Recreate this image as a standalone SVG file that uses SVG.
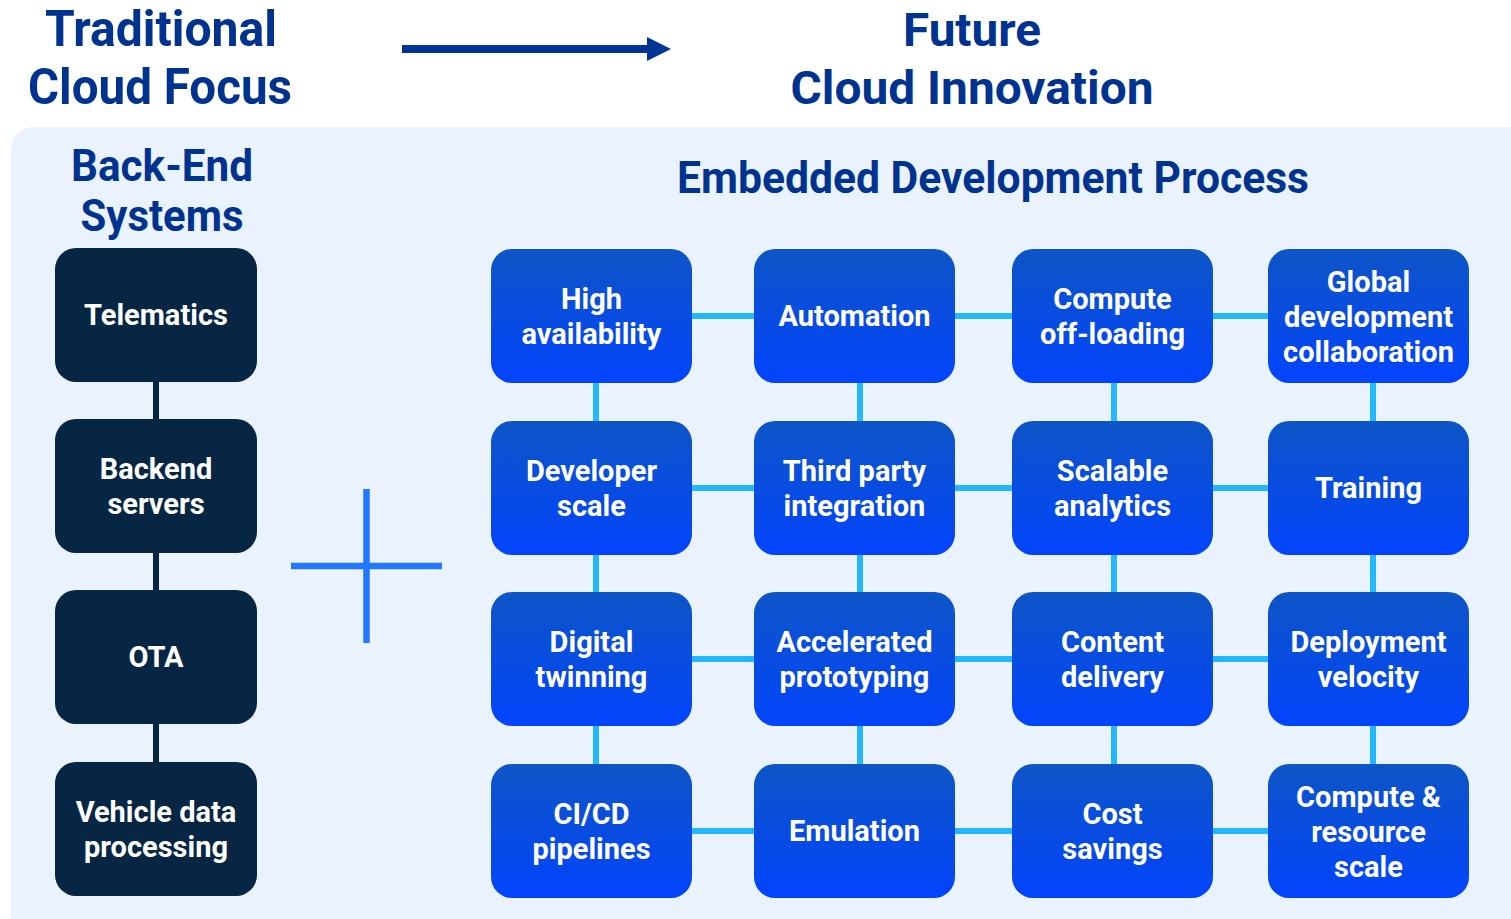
<svg xmlns="http://www.w3.org/2000/svg" width="1511" height="919" viewBox="0 0 1511 919">
  <defs>
    <linearGradient id="blueGrad" x1="0" y1="0" x2="0" y2="1">
      <stop offset="0" stop-color="#0E55C6"/>
      <stop offset="1" stop-color="#0244FC"/>
    </linearGradient>
    <marker id="arrowHead" viewBox="0 0 24 24" refX="0" refY="12" markerWidth="24" markerHeight="24" markerUnits="userSpaceOnUse" orient="auto">
      <path d="M0,0 L24,12 L0,24 Z" fill="#003496"/>
    </marker>
  </defs>
  <style>
    .title { font-family: Roboto, "Liberation Sans", sans-serif; font-weight: 700; fill: #003390; text-anchor: middle; }
    .lbl { font-family: Roboto, "Liberation Sans", sans-serif; font-weight: 700; font-size: 29px; fill: #FFFFFF; text-anchor: middle; }
    .dark { fill: #062644; }
    .blue { fill: url(#blueGrad); }
    .cy { stroke: #22B8FA; stroke-width: 6; fill: none; }
    .nv { stroke: #062644; stroke-width: 6; fill: none; }
  </style>

  <rect x="0" y="0" width="1511" height="919" fill="#FFFFFF"/>
  <rect x="11" y="127" width="1530" height="820" rx="22" fill="#EAF3FD"/>

  <!-- headings -->
  <g id="heading-traditional">
    <text class="title" x="161" y="46" font-size="50" textLength="232" lengthAdjust="spacingAndGlyphs">Traditional</text>
    <text class="title" x="160" y="104" font-size="50" textLength="264" lengthAdjust="spacingAndGlyphs">Cloud Focus</text>
  </g>
  <g id="heading-future">
    <text class="title" x="972" y="46" font-size="47" textLength="138" lengthAdjust="spacingAndGlyphs">Future</text>
    <text class="title" x="972" y="104" font-size="47" textLength="363" lengthAdjust="spacingAndGlyphs">Cloud Innovation</text>
  </g>
  <g id="heading-backend">
    <text class="title" x="162" y="181" font-size="45" textLength="182" lengthAdjust="spacingAndGlyphs">Back-End</text>
    <text class="title" x="162" y="231" font-size="45" textLength="163" lengthAdjust="spacingAndGlyphs">Systems</text>
  </g>
  <g id="heading-embedded">
    <text class="title" x="993" y="193" font-size="45" textLength="632" lengthAdjust="spacingAndGlyphs">Embedded Development Process</text>
  </g>

  <!-- arrow and plus -->
  <g id="transition-arrow">
    <line x1="402" y1="49" x2="647" y2="49" stroke="#003496" stroke-width="8" marker-end="url(#arrowHead)"/>
  </g>
  <g id="plus-sign" stroke="#2277FF" stroke-width="6.5">
    <line x1="291" y1="566" x2="442" y2="566"/>
    <line x1="366.5" y1="489" x2="366.5" y2="643"/>
  </g>

  <!-- connectors -->
  <g id="connectors">
    <line class="nv" x1="156" y1="370" x2="156" y2="840"/>
    <line class="cy" x1="680" y1="316" x2="1280" y2="316"/>
    <line class="cy" x1="680" y1="488" x2="1280" y2="488"/>
    <line class="cy" x1="680" y1="659" x2="1280" y2="659"/>
    <line class="cy" x1="680" y1="831" x2="1280" y2="831"/>
    <line class="cy" x1="596" y1="370" x2="596" y2="780"/>
    <line class="cy" x1="860" y1="370" x2="860" y2="780"/>
    <line class="cy" x1="1114" y1="370" x2="1114" y2="780"/>
    <line class="cy" x1="1373" y1="370" x2="1373" y2="780"/>
  </g>

  <!-- back-end nodes -->
  <g id="node-telematics">
    <rect class="dark" x="55" y="248" width="202" height="134" rx="21"/>
    <text class="lbl" x="156" y="325">Telematics</text>
  </g>
  <g id="node-backend-servers">
    <rect class="dark" x="55" y="419" width="202" height="134" rx="21"/>
    <text class="lbl" x="156" y="479">Backend</text>
    <text class="lbl" x="156" y="514">servers</text>
  </g>
  <g id="node-ota">
    <rect class="dark" x="55" y="590" width="202" height="134" rx="21"/>
    <text class="lbl" x="156" y="667">OTA</text>
  </g>
  <g id="node-vehicle-data">
    <rect class="dark" x="55" y="762" width="202" height="134" rx="21"/>
    <text class="lbl" x="156" y="822">Vehicle data</text>
    <text class="lbl" x="156" y="857">processing</text>
  </g>

  <!-- row 1 -->
  <g id="node-high-availability">
    <rect class="blue" x="491" y="249" width="201" height="134" rx="21"/>
    <text class="lbl" x="591.5" y="309">High</text>
    <text class="lbl" x="591.5" y="344">availability</text>
  </g>
  <g id="node-automation">
    <rect class="blue" x="754" y="249" width="201" height="134" rx="21"/>
    <text class="lbl" x="854.5" y="326">Automation</text>
  </g>
  <g id="node-compute-offloading">
    <rect class="blue" x="1012" y="249" width="201" height="134" rx="21"/>
    <text class="lbl" x="1112.5" y="309">Compute</text>
    <text class="lbl" x="1112.5" y="344">off-loading</text>
  </g>
  <g id="node-global-collab">
    <rect class="blue" x="1268" y="249" width="201" height="134" rx="21"/>
    <text class="lbl" x="1368.5" y="292">Global</text>
    <text class="lbl" x="1368.5" y="327">development</text>
    <text class="lbl" x="1368.5" y="362">collaboration</text>
  </g>

  <!-- row 2 -->
  <g id="node-developer-scale">
    <rect class="blue" x="491" y="421" width="201" height="134" rx="21"/>
    <text class="lbl" x="591.5" y="481">Developer</text>
    <text class="lbl" x="591.5" y="516">scale</text>
  </g>
  <g id="node-third-party">
    <rect class="blue" x="754" y="421" width="201" height="134" rx="21"/>
    <text class="lbl" x="854.5" y="481">Third party</text>
    <text class="lbl" x="854.5" y="516">integration</text>
  </g>
  <g id="node-scalable-analytics">
    <rect class="blue" x="1012" y="421" width="201" height="134" rx="21"/>
    <text class="lbl" x="1112.5" y="481">Scalable</text>
    <text class="lbl" x="1112.5" y="516">analytics</text>
  </g>
  <g id="node-training">
    <rect class="blue" x="1268" y="421" width="201" height="134" rx="21"/>
    <text class="lbl" x="1368.5" y="498">Training</text>
  </g>

  <!-- row 3 -->
  <g id="node-digital-twinning">
    <rect class="blue" x="491" y="592" width="201" height="134" rx="21"/>
    <text class="lbl" x="591.5" y="652">Digital</text>
    <text class="lbl" x="591.5" y="687">twinning</text>
  </g>
  <g id="node-accelerated-prototyping">
    <rect class="blue" x="754" y="592" width="201" height="134" rx="21"/>
    <text class="lbl" x="854.5" y="652">Accelerated</text>
    <text class="lbl" x="854.5" y="687">prototyping</text>
  </g>
  <g id="node-content-delivery">
    <rect class="blue" x="1012" y="592" width="201" height="134" rx="21"/>
    <text class="lbl" x="1112.5" y="652">Content</text>
    <text class="lbl" x="1112.5" y="687">delivery</text>
  </g>
  <g id="node-deployment-velocity">
    <rect class="blue" x="1268" y="592" width="201" height="134" rx="21"/>
    <text class="lbl" x="1368.5" y="652">Deployment</text>
    <text class="lbl" x="1368.5" y="687">velocity</text>
  </g>

  <!-- row 4 -->
  <g id="node-cicd">
    <rect class="blue" x="491" y="764" width="201" height="134" rx="21"/>
    <text class="lbl" x="591.5" y="824">CI/CD</text>
    <text class="lbl" x="591.5" y="859">pipelines</text>
  </g>
  <g id="node-emulation">
    <rect class="blue" x="754" y="764" width="201" height="134" rx="21"/>
    <text class="lbl" x="854.5" y="841">Emulation</text>
  </g>
  <g id="node-cost-savings">
    <rect class="blue" x="1012" y="764" width="201" height="134" rx="21"/>
    <text class="lbl" x="1112.5" y="824">Cost</text>
    <text class="lbl" x="1112.5" y="859">savings</text>
  </g>
  <g id="node-compute-resource">
    <rect class="blue" x="1268" y="764" width="201" height="134" rx="21"/>
    <text class="lbl" x="1368.5" y="807">Compute &amp;</text>
    <text class="lbl" x="1368.5" y="842">resource</text>
    <text class="lbl" x="1368.5" y="877">scale</text>
  </g>
</svg>
